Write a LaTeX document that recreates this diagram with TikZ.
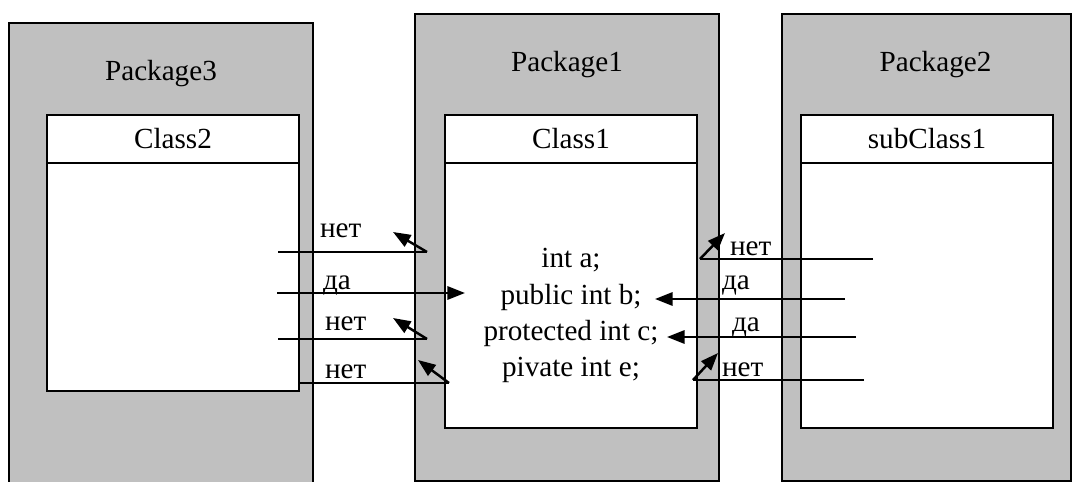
\documentclass[tikz,border=0pt]{standalone}
\usepackage{fontspec}
\setmainfont{Liberation Serif}
\usepackage{tikz}
\usetikzlibrary{positioning}
\usetikzlibrary{arrows.meta,calc}
\definecolor{pkggray}{RGB}{192,192,192}
\tikzset{
    %Define standard arrow tip
    >={Triangle[length=10pt,width=7.5pt]},
    % Define line and arrow styles
    link/.style={line width=0.9pt},
    allowed/.style={->, line width=1.4pt},
    denied/.style={->, line width=1.4pt},
}
\newcommand{\pkgwidth}{6.08cm}
\newcommand{\pkgheight}{9.34cm}
\newcommand{\clswidth}{5.04cm}
\newcommand{\clsheadheight}{0.96cm}

\begin{document}
\begin{tikzpicture}[x=0.02cm, y=-0.02cm, node distance=0cm, outer sep=0pt, font=\fontsize{16.6}{20.6}\selectfont]
\tikzstyle{pkgbox}=[draw, rectangle, line width=0.9pt, minimum width=\pkgwidth, minimum height=\pkgheight, fill=pkggray, anchor=north west]
\tikzstyle{clshead}=[draw, rectangle, line width=1pt, minimum width=\clswidth, minimum height=\clsheadheight, fill=white, anchor=north west]
\tikzstyle{clsbody}=[draw, rectangle, line width=1pt, minimum width=\clswidth, fill=white]
\tikzstyle{pkgtitle}=[inner sep=0pt, text height=12pt, text depth=4pt]
\tikzstyle{member}=[inner sep=0pt, text height=13pt, text depth=7.6pt]
\tikzstyle{lbl}=[inner sep=0pt, anchor=base west]

\useasboundingbox (0,0) rectangle (1072,482);

\node[pkgbox] (pkg3) at (9,23) {};
\node[pkgbox] (pkg1) at (415,14) {};
\node[pkgbox, minimum width=5.78cm] (pkg2) at (782,14) {};

\node[pkgtitle] (title3) [below = 0.72cm of pkg3.north] {Package3};
\node[pkgtitle] (title1) [below = 0.72cm of pkg1.north] {Package1};
\node[pkgtitle] (title2) [below = 0.72cm of pkg2.north, xshift=0.18cm] {Package2};

\node[clshead] (head2) at (47,115) {Class2};
\node[clsbody, minimum height=4.56cm] (body2) [below = 0cm of head2] {};
\node[clshead] (head1) at (445,115) {Class1};
\node[clsbody, minimum height=5.3cm] (body1) [below = 0cm of head1] {};
\node[clshead] (headsub) at (801,115) {subClass1};
\node[clsbody, minimum height=5.3cm] (bodysub) [below = 0cm of headsub] {};

\node[member, anchor=base] (ma) at (571,268) {int a;};
\node[member] (mb) [below = 0cm of ma] {public int b;};
\node[member] (mc) [below = 0cm of mb] {protected int c;};
\node[member] (me) [below = 0cm of mc] {pivate int e;};

% Package3 -> Package1
\coordinate (l1s) at (278,252);
\coordinate (l1e) at (427,252);
\coordinate (l1t) at (393,232);
\coordinate (l2s) at (277,293);
\coordinate (l2t) at (465,293);
\coordinate (l3s) at (278,339);
\coordinate (l3e) at (427,339);
\coordinate (l3t) at (393,318);
\coordinate (l4s) at (299,383);
\coordinate (l4e) at (449,383);
\coordinate (l4t) at (418,360);

\draw[link] (l1s) -- (l1e);
\draw[denied] (l1e) -- (l1t);
\draw[allowed] (l2s) -- (l2t);
\draw[link] (l3s) -- (l3e);
\draw[denied] (l3e) -- (l3t);
\draw[link] (l4s) -- (l4e);
\draw[denied] (l4e) -- (l4t);

\node[lbl] (ln1) at (320,238) {нет};
\node[lbl] (ld2) at (323,290) {да};
\node[lbl] (ln3) at (325,331) {нет};
\node[lbl] (ln4) at (325,379) {нет};

% Package2 -> Package1
\coordinate (r1s) at (873,259);
\coordinate (r1e) at (700,259);
\coordinate (r1t) at (725,233);
\coordinate (r2s) at (845,299);
\coordinate (r2t) at (655,299);
\coordinate (r3s) at (856,337);
\coordinate (r3t) at (667,337);
\coordinate (r4s) at (864,380);
\coordinate (r4e) at (693,380);
\coordinate (r4t) at (718,353);

\draw[link] (r1s) -- (r1e);
\draw[denied] (r1e) -- (r1t);
\draw[allowed] (r2s) -- (r2t);
\draw[allowed] (r3s) -- (r3t);
\draw[link] (r4s) -- (r4e);
\draw[denied] (r4e) -- (r4t);

\node[lbl] (rn1) at (730,256) {нет};
\node[lbl] (rd2) at (722,290) {да};
\node[lbl] (rd3) at (732,332) {да};
\node[lbl] (rn4) at (722,377) {нет};

\end{tikzpicture}
\end{document}
